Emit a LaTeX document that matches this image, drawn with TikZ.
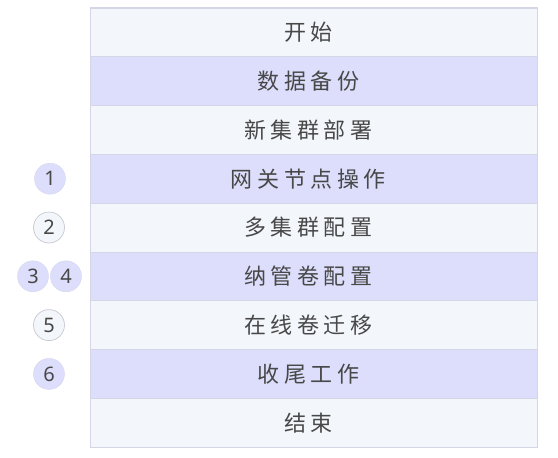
\documentclass[tikz,border=0pt]{standalone}
\usepackage{fontspec}
\newfontfamily\cjk[LetterSpace=21]{Noto Sans CJK SC}
\newfontfamily\numfont{Noto Sans}
\definecolor{rowlight}{HTML}{F3F6FB}
\definecolor{rowdark}{HTML}{DCDEFB}
\definecolor{gridline}{HTML}{D4D6E6}
\definecolor{txt}{HTML}{484848}
\definecolor{circline}{HTML}{C8C8D0}
\tikzset{
  rowbox/.style={draw=gridline, line width=0.8pt, minimum width=447pt, minimum height=48.8pt, inner sep=0pt, anchor=north west, text=txt, font=\cjk\fontsize{22}{22}\selectfont, execute at end node={\kern11pt}},
  lightrow/.style={rowbox, fill=rowlight},
  darkrow/.style={rowbox, fill=rowdark},
  badge/.style={circle, minimum size=31pt, inner sep=0pt, text=txt, font=\numfont\fontsize{20}{20}\selectfont},
  badgedark/.style={badge, fill=rowdark, draw=rowdark!90!gray},
  badgelight/.style={badge, fill=rowlight, draw=circline, line width=0.7pt}
}
\begin{document}
\begin{tikzpicture}[x=1pt,y=-1pt]
\useasboundingbox (0,0) rectangle (558,458);
\node[lightrow] (r1) at (90,7.5) {开始};
\node[darkrow]  (r2) at (90,56.3) {数据备份};
\node[lightrow] (r3) at (90,105.1) {新集群部署};
\node[darkrow]  (r4) at (90,153.9) {网关节点操作};
\node[lightrow] (r5) at (90,202.7) {多集群配置};
\node[darkrow]  (r6) at (90,251.5) {纳管卷配置};
\node[lightrow] (r7) at (90,300.3) {在线卷迁移};
\node[darkrow]  (r8) at (90,349.1) {收尾工作};
\node[lightrow] (r9) at (90,397.9) {结束};
\draw[gridline, line width=1pt] (r1.north west) rectangle (r9.south east);
\node[badgedark]  (b1) at (50,0 |- r4) {1};
\node[badgelight] (b2) at (49,0 |- r5) {2};
\node[badgedark]  (b3) at (33,0 |- r6) {3};
\node[badgedark]  (b4) at (66,0 |- r6) {4};
\node[badgelight] (b5) at (49,0 |- r7) {5};
\node[badgedark]  (b6) at (49,0 |- r8) {6};
\end{tikzpicture}
\end{document}
